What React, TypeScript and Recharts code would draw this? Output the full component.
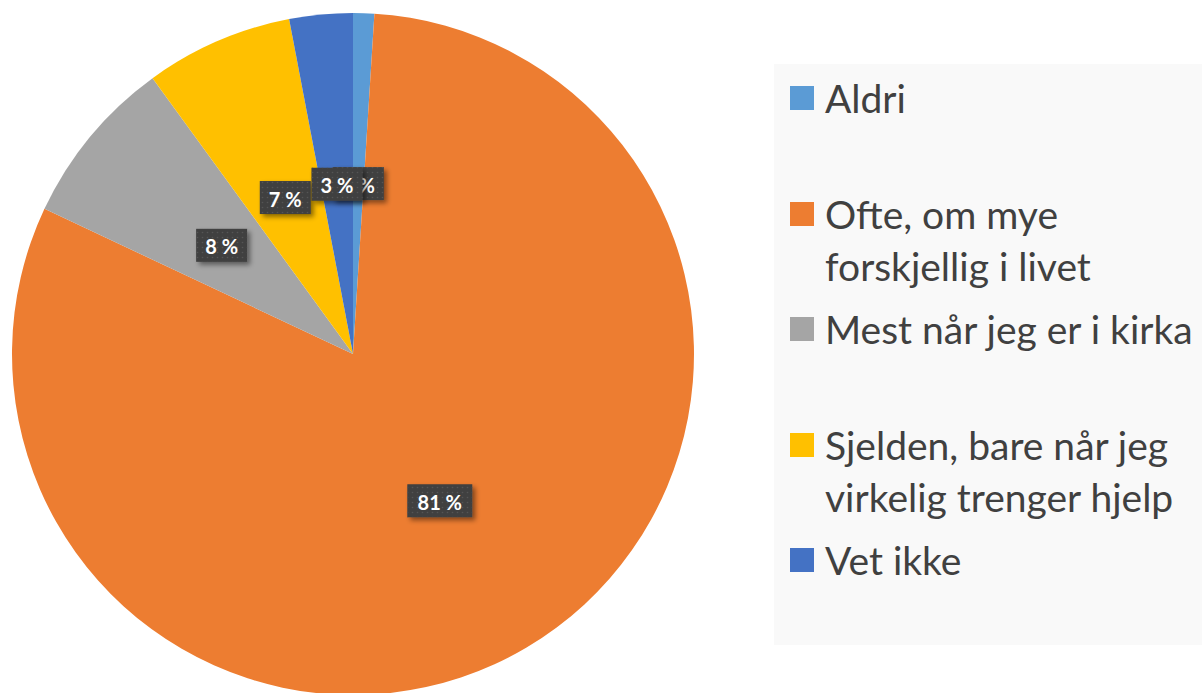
import { PieChart, Pie, Cell, Legend } from 'recharts';

const categories = [
  'Aldri',
  'Ofte, om mye\nforskjellig i livet',
  'Mest når jeg er i kirka',
  'Sjelden, bare når jeg\nvirkelig trenger hjelp',
  'Vet ikke',
];
const shares = [1, 81, 8, 7, 3];
const colors = ['#5B9BD5', '#ED7D31', '#A5A5A5', '#FFC000', '#4472C4'];

const data = categories.map((name, i) => ({ name, value: shares[i] }));

const RAD = Math.PI / 180;

function renderLabel(props: any) {
  const { cx, cy, midAngle, outerRadius, value } = props;
  const r = outerRadius * 0.5;
  const x = cx + r * Math.cos(-midAngle * RAD);
  const y = cy + r * Math.sin(-midAngle * RAD);
  const text = `${value} %`;
  const digits = String(value).length;
  const w = 37 + 14 * digits;
  const h = 33;
  return (
    <g>
      <rect x={x - w / 2} y={y - h / 2} width={w} height={h} fill="#404040" filter="url(#boxShadow)" />
      <rect x={x - w / 2} y={y - h / 2} width={w} height={h} fill="url(#dots)" />
      <text
        x={x}
        y={y + 1}
        textAnchor="middle"
        dominantBaseline="central"
        fill="#ffffff"
        fontFamily="Lato, sans-serif"
        fontWeight={700}
        fontSize={20}
      >
        {text}
      </text>
    </g>
  );
}

function renderLegend(props: any) {
  const items = [...(props.payload || [])].sort(
    (a: any, b: any) => categories.indexOf(a.value) - categories.indexOf(b.value)
  );
  return (
    <div
      style={{
        background: '#f9f9f9',
        width: 428,
        height: 581,
        boxSizing: 'border-box',
        paddingTop: 8,
      }}
    >
      {items.map((item: any, i: number) => (
        <div key={i} style={{ height: 115.5, display: 'flex', alignItems: 'flex-start' }}>
          <div
            style={{
              width: 24,
              height: 24,
              background: item.color,
              marginLeft: 16,
              marginTop: 14,
              flex: 'none',
            }}
          />
          <div
            style={{
              marginLeft: 11,
              fontFamily: 'Lato, sans-serif',
              fontSize: 39,
              lineHeight: '52px',
              color: '#404040',
              whiteSpace: 'pre',
            }}
          >
            {item.value}
          </div>
        </div>
      ))}
    </div>
  );
}

export default function App() {
  return (
    <div style={{ position: 'absolute', left: 0, top: 0, width: 1202, height: 693, background: '#ffffff', overflow: 'hidden' }}>
      <style>{`.recharts-pie-sectors { filter: drop-shadow(3px 4px 9px rgba(0,0,0,0.28)); }`}</style>
      <svg width={0} height={0} style={{ position: 'absolute' }}>
        <defs>
          <pattern id="dots" width={5} height={5} patternUnits="userSpaceOnUse">
            <circle cx={2.5} cy={2.5} r={0.8} fill="#555555" />
          </pattern>
          <filter id="boxShadow" x="-30%" y="-30%" width="160%" height="160%">
            <feDropShadow dx={3} dy={3} stdDeviation={2.5} floodColor="#000" floodOpacity={0.45} />
          </filter>
        </defs>
      </svg>
      <PieChart width={1202} height={693} margin={{ top: 0, right: 0, bottom: 0, left: 0 }}>
        <Pie
          data={data}
          dataKey="value"
          nameKey="name"
          cx={353}
          cy={354}
          outerRadius={341}
          startAngle={90}
          endAngle={-270}
          stroke="none"
          labelLine={false}
          label={renderLabel}
          isAnimationActive={false}
        >
          {data.map((entry, i) => (
            <Cell key={`cell-${i}`} fill={colors[i]} />
          ))}
        </Pie>
        <Legend
          layout="vertical"
          align="right"
          verticalAlign="top"
          content={renderLegend}
          wrapperStyle={{ left: 774, top: 64, width: 428, height: 581, right: 'auto' }}
        />
      </PieChart>
    </div>
  );
}
